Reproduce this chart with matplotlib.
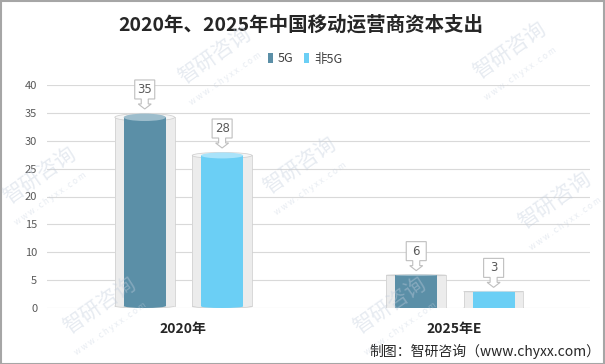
import numpy as np
import matplotlib
matplotlib.use('Agg')
import matplotlib.pyplot as plt
from matplotlib.patches import Rectangle, Ellipse, Polygon, Patch
import matplotlib.transforms as mtransforms

plt.rcParams['font.family'] = ['Noto Sans CJK SC', 'DejaVu Sans']

# du lieu
categories = ['2020年', '2025年E']
series_names = ['5G', '非5G']
values_5g = [35, 6]
values_non5g = [28, 3]
colors = ['#5b8fa7', '#6bcff5']
top_colors = ['#9dbdcc', '#a9e3fa']
y_ticks = [0, 5, 10, 15, 20, 25, 30, 35, 40]

fig = plt.figure(figsize=(6.05, 3.64), dpi=100)
ax = fig.add_axes([47 / 605, 56 / 364, 543 / 605, 223 / 364])
ax.set_xlim(-0.5, 1.5)
ax.set_ylim(0, 40)
ax.set_yticks(y_ticks)
ax.set_xticks([])
for s in ax.spines.values():
    s.set_visible(False)
ax.tick_params(axis='y', length=0, pad=7, labelsize=8, labelcolor='#595959')
for t in y_ticks:
    ax.axhline(t, color='#d9d9d9', lw=0.8, zorder=0)

bar_w = 0.155
glass_w = 0.22
offsets = [-0.14, 0.145]


def cylinder(x, v, w, face, top, edge, z):
    h = 0.038 * v
    hb = 0.02 * v
    ax.add_patch(Ellipse((x, hb / 2), w, hb, facecolor=face, edgecolor=edge, lw=0.6, zorder=z))
    ax.add_patch(Rectangle((x - w / 2, hb / 2), w, v - 0.6 * h - hb / 2, facecolor=face,
                           edgecolor='none', zorder=z))
    if edge != 'none':
        ax.plot([x - w / 2, x - w / 2], [hb / 2, v - 0.6 * h], color=edge, lw=0.6, zorder=z)
        ax.plot([x + w / 2, x + w / 2], [hb / 2, v - 0.6 * h], color=edge, lw=0.6, zorder=z)
    ax.add_patch(Ellipse((x, v - 0.6 * h), w, h, facecolor=top, edgecolor=edge, lw=0.6, zorder=z + 0.1))


def callout(x, v, label):
    # hop chu co mui ten chi xuong, toa do tinh theo pixel
    trans = fig.dpi_scale_trans + mtransforms.ScaledTranslation(x, v + 0.7, ax.transData)
    pts = np.array([(-10, 29), (10, 29), (10, 10), (3.5, 10), (3.5, 5), (6.5, 5), (0, 0),
                    (-6.5, 5), (-3.5, 5), (-3.5, 10), (-10, 10)]) / 100.0
    ax.add_patch(Polygon(pts, closed=True, facecolor='white', edgecolor='#bfbfbf', lw=0.8,
                         transform=trans, zorder=6, clip_on=False))
    ax.text(0, 0.195, label, transform=trans, ha='center', va='center', fontsize=8.5,
            color='#595959', zorder=7, family=['DejaVu Sans'])


series = [values_5g, values_non5g]
for si, vals in enumerate(series):
    for ci, v in enumerate(vals):
        x = ci + offsets[si]
        cylinder(x, v, glass_w, '#ececec', '#f6f6f6', '#d2d2d2', 2)
        cylinder(x, v, bar_w, colors[si], top_colors[si], 'none', 3)
        callout(x, v, str(v))

# nhan truc x
for ci, c in enumerate(categories):
    ax.text(ci, -3.7, c, ha='center', va='center', fontsize=10, fontweight='bold', color='#262626')

# tieu de
fig.text(0.497, 1 - 25 / 364, '2020年、2025年中国移动运营商资本支出', ha='center', va='center',
         fontsize=14, fontweight='bold', color='#262626')

# chu giai
handles = [Patch(facecolor=colors[i], edgecolor='none') for i in range(2)]
fig.legend(handles, series_names, loc='center', bbox_to_anchor=(305 / 605, 1 - 59 / 364), ncol=2,
           frameon=False, fontsize=9, handlelength=0.4, handleheight=0.8, handletextpad=0.4,
           columnspacing=0.9, labelcolor='#404040')

# nguon
fig.text(600 / 605, 1 - 351 / 364, '制图：智研咨询（www.chyxx.com）', ha='right', va='center',
         fontsize=10, color='#262626')

# watermark
wm = [(215, 55), (510, 50), (300, 165), (40, 175), (555, 200), (100, 305), (390, 305)]
for (px, py) in wm:
    fig.text(px / 605, 1 - py / 364, '智研咨询', ha='center', va='center', fontsize=15,
             rotation=35, color='#c3cedd', alpha=0.4, zorder=10)
    fig.text((px + 10) / 605, 1 - (py + 24) / 364, 'w w w . c h y x x . c o m', ha='center',
             va='center', fontsize=6, rotation=35, color='#c3cedd', alpha=0.4, zorder=10)

fig.add_artist(Rectangle((0.001, 0.001), 0.997, 0.996, transform=fig.transFigure, fill=False,
                         edgecolor='#a6a6a6', lw=1.5))

fig.savefig('out.png', dpi=100)
